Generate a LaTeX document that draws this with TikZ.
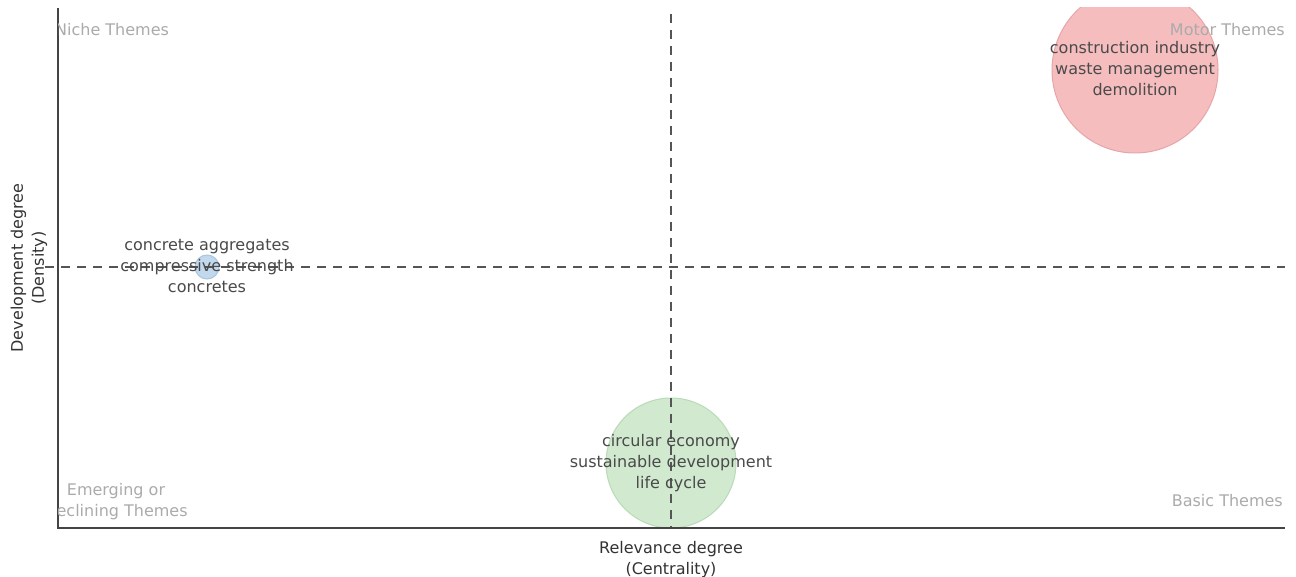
\documentclass[tikz,border=0pt]{standalone}
\usepackage{fontspec}
\setmainfont{DejaVu Sans}
\definecolor{axiscol}{HTML}{444444}
\definecolor{dashcol}{HTML}{555555}
\definecolor{quadcol}{HTML}{ABABAB}
\definecolor{labcol}{HTML}{4A4A4A}
\definecolor{titlecol}{HTML}{333333}
\definecolor{redfill}{HTML}{F6BDBF}
\definecolor{redline}{HTML}{E7A5A8}
\definecolor{greenfill}{HTML}{D0E9CF}
\definecolor{greenline}{HTML}{B9DBB7}
\definecolor{bluefill}{HTML}{C2D8EC}
\definecolor{blueline}{HTML}{A9C6E0}
\begin{document}
\begin{tikzpicture}[x=1pt,y=-1pt,
  every node/.style={inner sep=0pt, font=\fontsize{16}{21}\selectfont},
  axisline/.style={draw=axiscol, line width=1.4pt},
  dashline/.style={draw=dashcol, line width=1.5pt, dash pattern=on 9pt off 7pt},
  quadlabel/.style={text=quadcol},
  themelabel/.style={text=labcol, align=center},
  axistitle/.style={text=titlecol, align=center},
  bubble/.style={line width=1pt}]
\useasboundingbox[fill=white] (0,0) rectangle (1296,577);
% plot corners
\coordinate (tl) at (58,8);
\coordinate (bl) at (58,528);
\coordinate (br) at (1285,528);
\coordinate (vtop) at (671,14);
\coordinate (vbot) at (671,528);
\coordinate (hleft) at (45,267);
\coordinate (hright) at (1285,267);
% bubbles, clipped to the plot area
\begin{scope}
  \clip (58,8) rectangle (1290,528);
  \node[bubble, circle, minimum size=166pt, fill=redfill, draw=redline] (red) at (1135,70) {};
  \node[bubble, circle, minimum size=130pt, fill=greenfill, draw=greenline] (green) at (671,463) {};
  \node[bubble, circle, minimum size=24pt, fill=bluefill, draw=blueline] (blue) at (207,267) {};
\end{scope}
% dashed quadrant lines
\draw[dashline] (vtop) -- (vbot);
\draw[dashline] (hleft) -- (hright);
% axes
\draw[axisline] (tl) -- (bl) -- (br);
% quadrant labels
\begin{scope}
  \clip (58.7,0) rectangle (1296,577);
  \node[quadlabel, anchor=west] (niche) at (55,30) {Niche Themes};
  \node[quadlabel, align=center] (emerging) at (116,502) {Emerging or\\Declining Themes};
\end{scope}
\node[quadlabel, anchor=east] (motor) at (1285,30) {Motor Themes};
\node[quadlabel, anchor=east] (basic) at (1283,501) {Basic Themes};
% theme labels
\node[themelabel] (redlab) at (1135,69) {construction industry\\waste management\\demolition};
\node[themelabel] (greenlab) at (671,463) {circular economy\\sustainable development\\life cycle};
\node[themelabel] (bluelab) at (207,266) {concrete aggregates\\compressive strength\\concretes};
% axis titles
\node[axistitle] (xtitle) at (671,560) {Relevance degree\\(Centrality)};
\node[axistitle, rotate=90] (ytitle) at (29,268) {Development degree\\(Density)};
\end{tikzpicture}
\end{document}
